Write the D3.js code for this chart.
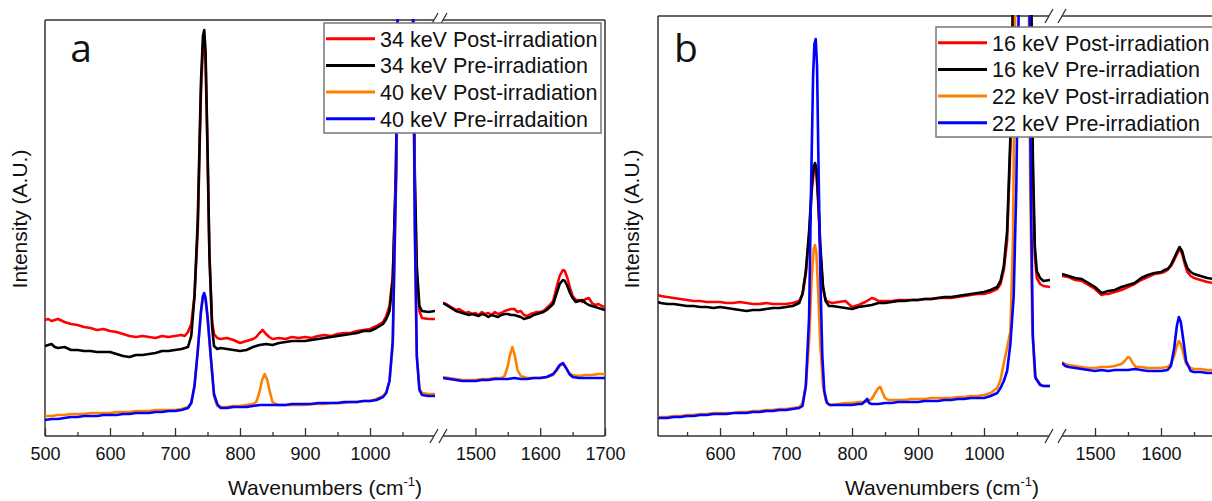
<!DOCTYPE html>
<html>
<head>
<meta charset="utf-8">
<script src="https://cdn.jsdelivr.net/npm/d3@7"></script>
<style>
  body { margin: 0; background: #fff; }
  svg { display: block; }
  text { font-family: "Liberation Sans", Arial, sans-serif; fill: #111; }
</style>
</head>
<body>
<div id="chart"></div>
<script>
// ---- data: [wavenumber (cm-1), intensity (a.u.)] ----

// panel a
const aPost34 = [
  [500,116],[505,117],[510,115],[515,116],[520,117],[530,114],[540,112],[550,111],[560,109],[570,108],
  [580,106],[590,107],[600,105],[610,104],[620,102],[630,100],[640,99],[650,100],[660,99],[670,98],
  [680,100],[690,99],[700,100],[710,101],[715,100],[720,104],[725,112],[730,140],[735,205],[738,290],
  [740,345],[743,388],[745,394],[747,375],[750,285],[753,180],[757,115],[760,102],[765,98],[770,97],
  [780,98],[790,96],[800,93],[805,94],[810,95],[820,97],[825,99],[830,103],[835,106],[840,102],
  [845,99],[850,97],[860,98],[870,97],[880,99],[890,98],[900,99],[910,98],[920,100],[930,101],
  [940,100],[950,102],[960,103],[970,103],[980,105],[990,106],[1000,107],[1010,110],[1020,114],[1025,120],
  [1030,130],[1035,160],[1040,260],[1043,430],[1048,600],[1055,650],[1062,600],[1066,430],[1069,250],[1072,160],
  [1076,125],[1080,118],[1090,117],[1100,117],
  [1450,133],[1455,132],[1460,130],[1465,128],[1470,126],[1475,127],[1480,125],[1485,123],[1490,124],[1495,122],
  [1500,123],[1505,121],[1510,124],[1515,122],[1520,123],[1525,121],[1530,124],[1535,122],[1540,123],[1545,125],
  [1550,126],[1555,127],[1560,127],[1565,124],[1570,125],[1575,121],[1580,120],[1585,122],[1590,123],[1595,124],
  [1600,124],[1605,125],[1610,128],[1615,131],[1620,135],[1625,148],[1630,160],[1635,166],[1638,165],[1642,158],
  [1646,148],[1650,140],[1655,136],[1660,136],[1665,134],[1670,137],[1675,138],[1680,133],[1685,131],[1690,132],
  [1695,130],[1700,129]
];
const aPre34 = [
  [500,90],[505,91],[510,92],[515,89],[520,88],[530,89],[540,86],[550,86],[560,85],[570,85],
  [580,84],[590,84],[600,84],[610,82],[620,80],[630,79],[640,81],[650,81],[660,82],[670,83],
  [680,85],[690,85],[700,86],[710,87],[715,88],[720,89],[725,100],[730,140],[735,215],[738,300],
  [740,355],[743,400],[745,406],[747,385],[750,290],[753,180],[757,110],[760,90],[765,87],[770,88],
  [780,87],[790,86],[800,85],[810,86],[820,89],[830,91],[840,92],[850,91],[860,93],[870,94],
  [880,95],[890,95],[900,95],[910,96],[920,97],[930,98],[940,99],[950,100],[960,101],[970,102],
  [980,103],[990,105],[1000,105],[1010,108],[1020,112],[1025,117],[1030,125],[1035,155],[1040,270],[1043,440],
  [1048,610],[1055,660],[1062,610],[1066,440],[1069,260],[1072,170],[1076,130],[1080,125],[1090,124],[1100,125],
  [1450,133],[1455,131],[1460,129],[1465,127],[1470,125],[1475,124],[1480,123],[1485,122],[1490,121],[1495,122],
  [1500,121],[1505,120],[1510,122],[1515,121],[1520,119],[1525,121],[1530,120],[1535,119],[1540,121],[1545,122],
  [1550,122],[1555,121],[1560,121],[1565,120],[1570,119],[1575,117],[1580,118],[1585,119],[1590,121],[1595,122],
  [1600,123],[1605,124],[1610,126],[1615,129],[1620,132],[1625,142],[1630,152],[1635,156],[1638,155],[1642,150],
  [1646,143],[1650,138],[1655,134],[1660,135],[1665,136],[1670,133],[1675,131],[1680,130],[1685,129],[1690,128],
  [1695,127],[1700,126]
];
const aPost40 = [
  [500,20],[510,20],[520,21],[530,21],[540,22],[550,22],[560,22],[570,23],[580,23],[590,23],
  [600,23],[610,24],[620,24],[630,24],[640,25],[650,25],[660,25],[670,26],[680,26],[690,26],
  [700,26],[710,27],[720,29],[725,33],[730,50],[735,85],[740,124],[743,139],[745,141],[747,136],
  [750,118],[755,78],[760,40],[765,30],[770,29],[780,29],[790,30],[800,30],[810,31],[820,32],
  [825,34],[830,44],[834,56],[838,62],[842,56],[846,44],[850,34],[855,32],[860,31],[870,31],
  [880,31],[890,31],[900,31],[910,32],[920,32],[930,32],[940,33],[950,33],[960,33],[970,34],
  [980,34],[990,35],[1000,35],[1010,37],[1020,40],[1025,44],[1030,55],[1035,90],[1040,250],[1043,450],
  [1048,620],[1055,670],[1062,620],[1066,450],[1069,200],[1072,80],[1076,48],[1080,43],[1090,42],[1100,42],
  [1450,59],[1460,58],[1470,57],[1480,56],[1490,56],[1500,56],[1510,57],[1520,57],[1530,58],[1540,58],
  [1545,60],[1550,70],[1553,80],[1557,89],[1561,80],[1565,66],[1570,60],[1580,58],[1590,58],[1600,58],
  [1610,59],[1620,61],[1625,65],[1630,70],[1635,72],[1640,68],[1645,63],[1650,61],[1660,60],[1670,61],
  [1680,61],[1690,62],[1700,62]
];
const aPre40 = [
  [500,16],[510,17],[520,17],[530,18],[540,19],[550,19],[560,20],[570,20],[580,20],[590,21],
  [600,21],[610,21],[620,22],[630,22],[640,23],[650,23],[660,23],[670,24],[680,24],[690,25],
  [700,25],[710,26],[720,28],[725,33],[730,50],[735,85],[740,125],[743,140],[745,143],[747,138],
  [750,120],[755,80],[760,42],[765,32],[770,28],[780,28],[790,29],[800,29],[810,29],[820,30],
  [830,31],[840,31],[850,31],[860,31],[870,31],[880,32],[890,32],[900,32],[910,32],[920,33],
  [930,33],[940,33],[950,33],[960,34],[970,34],[980,34],[990,35],[1000,35],[1010,36],[1020,39],
  [1025,43],[1030,55],[1035,95],[1040,260],[1043,460],[1048,620],[1055,670],[1062,620],[1066,450],[1069,210],
  [1072,80],[1076,46],[1080,41],[1090,40],[1100,40],
  [1450,58],[1460,57],[1470,56],[1480,55],[1490,55],[1500,55],[1510,56],[1520,56],[1530,57],[1540,57],
  [1550,57],[1560,58],[1570,57],[1580,57],[1590,58],[1600,58],[1610,59],[1620,62],[1625,66],[1630,71],
  [1635,73],[1640,68],[1645,62],[1650,59],[1660,58],[1670,58],[1680,58],[1690,58],[1700,58]
];

// panel b
const bPost16 = [
  [506,141],[510,140],[520,139],[530,138],[540,137],[550,136],[560,135],[570,135],[580,134],[590,134],
  [600,134],[610,133],[620,133],[630,134],[640,133],[650,132],[660,132],[670,133],[680,132],[690,132],
  [700,132],[710,133],[720,135],[725,142],[730,162],[735,200],[739,245],[742,265],[744,268],[746,263],
  [749,230],[752,185],[756,148],[760,136],[765,134],[770,133],[780,134],[790,135],[795,132],[800,129],
  [810,131],[820,134],[830,138],[835,137],[840,135],[850,135],[860,135],[870,136],[880,136],[890,136],
  [900,136],[910,137],[920,137],[930,138],[940,138],[950,138],[960,139],[970,140],[980,141],[990,142],
  [1000,142],[1010,144],[1020,147],[1025,152],[1030,166],[1035,195],[1040,290],[1043,390],[1045,480],[1052,630],
  [1062,620],[1070,480],[1072,400],[1074,260],[1077,180],[1080,158],[1085,152],[1090,150],[1100,149],
  [1450,160],[1460,159],[1470,156],[1480,155],[1490,151],[1500,147],[1505,144],[1510,141],[1515,142],[1520,142],
  [1530,144],[1540,146],[1550,149],[1560,152],[1570,156],[1580,159],[1590,162],[1600,163],[1605,164],[1610,166],
  [1615,170],[1620,176],[1625,183],[1628,187],[1632,182],[1636,172],[1640,164],[1645,160],[1650,158],[1660,156],
  [1670,154],[1680,153],[1690,153],[1700,152]
];
const bPre16 = [
  [506,134],[510,133],[520,132],[530,132],[540,131],[550,130],[560,130],[570,129],[580,129],[590,128],
  [600,129],[610,128],[620,127],[630,126],[640,125],[650,126],[660,126],[670,127],[680,128],[690,128],
  [700,129],[710,130],[720,133],[725,142],[730,165],[735,205],[739,250],[742,270],[744,273],[746,268],
  [749,235],[752,190],[756,150],[760,135],[765,130],[770,130],[780,129],[790,128],[800,127],[810,129],
  [820,130],[830,131],[840,133],[850,133],[860,134],[870,135],[880,135],[890,136],[900,136],[910,137],
  [920,137],[930,138],[940,139],[950,139],[960,140],[970,141],[980,142],[990,143],[1000,144],[1010,146],
  [1020,149],[1025,155],[1030,170],[1035,205],[1040,300],[1043,400],[1045,500],[1052,650],[1062,640],[1070,500],
  [1072,420],[1074,280],[1077,190],[1080,165],[1085,158],[1090,155],[1100,156],
  [1450,162],[1460,160],[1470,158],[1480,157],[1490,153],[1500,149],[1505,146],[1510,143],[1515,144],[1520,145],
  [1530,146],[1540,149],[1550,151],[1560,153],[1570,158],[1580,161],[1590,163],[1600,164],[1605,166],[1610,167],
  [1615,171],[1620,178],[1625,185],[1628,189],[1632,185],[1636,175],[1640,168],[1645,164],[1650,162],[1660,160],
  [1670,158],[1680,157],[1690,157],[1700,156]
];
const bPost22 = [
  [506,19],[510,19],[520,19],[530,20],[540,20],[550,21],[560,21],[570,22],[580,22],[590,23],
  [600,23],[610,23],[620,23],[630,24],[640,24],[650,25],[660,25],[670,26],[680,26],[690,27],
  [700,27],[710,28],[720,29],[725,33],[730,50],[735,95],[739,160],[742,187],[744,191],[746,183],
  [749,140],[752,90],[756,50],[760,36],[765,31],[770,31],[780,32],[790,33],[800,33],[810,34],
  [820,34],[830,37],[835,43],[840,48],[843,49],[846,44],[850,38],[855,36],[860,36],[870,36],
  [880,36],[890,37],[900,37],[910,37],[920,38],[930,38],[940,38],[950,38],[960,39],[970,39],
  [980,40],[990,40],[1000,41],[1010,43],[1020,48],[1025,56],[1030,73],[1035,88],[1040,105],[1044,200],
  [1047,410],[1050,550],[1058,650],[1065,560],[1068,430],[1070,250],[1073,110],[1077,60],[1085,52],[1090,50],
  [1100,50],
  [1450,74],[1455,72],[1460,71],[1470,70],[1480,69],[1490,68],[1500,68],[1510,69],[1520,69],[1530,70],
  [1540,72],[1545,75],[1550,79],[1553,78],[1557,73],[1562,69],[1570,69],[1580,68],[1590,68],[1600,68],
  [1610,69],[1615,72],[1620,80],[1624,90],[1627,95],[1630,92],[1634,82],[1638,72],[1645,68],[1650,67],
  [1660,67],[1670,66],[1680,66],[1690,66],[1700,66]
];
const bPre22 = [
  [506,18],[510,18],[520,18],[530,19],[540,19],[550,20],[560,20],[570,21],[580,21],[590,22],
  [600,22],[610,22],[620,23],[630,23],[640,23],[650,24],[660,24],[670,25],[680,25],[690,26],
  [700,26],[710,27],[720,28],[725,30],[730,50],[735,120],[738,250],[741,360],[743,392],[745,397],
  [747,370],[749,280],[752,160],[755,80],[758,45],[762,33],[767,31],[770,31],[780,31],[790,31],
  [800,31],[810,32],[815,32],[820,35],[823,37],[826,33],[830,32],[840,32],[850,33],[860,33],
  [870,34],[880,34],[890,34],[900,34],[910,35],[920,35],[930,35],[940,36],[950,36],[960,37],
  [970,37],[980,38],[990,38],[1000,38],[1010,40],[1020,43],[1025,48],[1030,55],[1035,65],[1040,92],
  [1045,140],[1049,250],[1052,400],[1054,500],[1060,650],[1066,560],[1069,430],[1071,250],[1074,100],[1078,58],
  [1085,51],[1090,50],[1100,50],
  [1450,73],[1455,70],[1460,69],[1470,68],[1480,67],[1490,66],[1500,65],[1510,66],[1520,65],[1530,66],
  [1540,66],[1550,66],[1560,67],[1570,66],[1580,65],[1590,65],[1600,65],[1610,66],[1615,70],[1620,88],
  [1624,110],[1627,119],[1630,114],[1634,95],[1638,75],[1645,65],[1650,64],[1660,64],[1670,63],[1680,63],
  [1690,63],[1700,63]
];

const aLabels = ["34 keV Post-irradiation", "34 keV Pre-irradiation", "40 keV Post-irradiation", "40 keV Pre-irradaition"];
const bLabels = ["16 keV Post-irradiation", "16 keV Pre-irradiation", "22 keV Post-irradiation", "22 keV Pre-irradiation"];
const colors = ["#ff0000", "#000000", "#ff8000", "#0000ff"];

const majorTicksA = [500, 600, 700, 800, 900, 1000, 1500, 1600, 1700];
const majorTicksB = [600, 700, 800, 900, 1000, 1500, 1600];
const minorTicks = [550, 650, 750, 850, 950, 1050, 1550, 1650];

const W = 1212, H = 501;
const svg = d3.select("#chart").append("svg").attr("width", W).attr("height", H);

const panels = [
  { id: "a", letter: "a", series: [aPost34, aPre34, aPost40, aPre40], labels: aLabels, majors: majorTicksA,
    xMin: 500, left: 45, breakL: 435, breakR: 443, right: 605, top: 20, bottom: 436, yMax: 416,
    legX: 324, legY: 23, legW: 277, legH: 110, letterX: 81, ylabX: 20, xlabX: 325 },
  { id: "b", letter: "b", series: [bPost16, bPre16, bPost22, bPre22], labels: bLabels, majors: majorTicksB,
    xMin: 506, left: 658, breakL: 1050, breakR: 1062, right: 1227, top: 16, bottom: 436, yMax: 420,
    legX: 936, legY: 27, legW: 300, legH: 110, letterX: 686, ylabX: 632, xlabX: 942 }
];

panels.forEach(drawPanel);

function drawPanel(p) {
  const g = svg.append("g");

  // broken x axis: one polylinear scale, segments drawn separately
  const x = d3.scaleLinear()
    .domain([p.xMin, 1100, 1450, 1700])
    .range([p.left, p.breakL, p.breakR, p.right]);
  const y = d3.scaleLinear().domain([0, p.yMax]).range([p.bottom, p.top]);

  // clip each segment
  const segs = [
    { key: "L", x0: p.left, x1: p.breakL, filt: d => d[0] <= 1100 },
    { key: "R", x0: p.breakR, x1: p.right, filt: d => d[0] >= 1450 }
  ];
  const defs = svg.append("defs");
  segs.forEach(s => {
    defs.append("clipPath").attr("id", `clip-${p.id}${s.key}`)
      .append("rect")
      .attr("x", s.x0).attr("y", p.top - 1)
      .attr("width", s.x1 - s.x0).attr("height", p.bottom - p.top + 1);
  });

  // frame
  const frame = g.append("g").attr("stroke", "#333").attr("stroke-width", 1.5).attr("fill", "none");
  const sl = p.breakL - 1, sr = p.breakR;
  frame.append("line").attr("x1", p.left).attr("x2", p.left).attr("y1", p.top).attr("y2", p.bottom);
  frame.append("line").attr("x1", p.right).attr("x2", p.right).attr("y1", p.top).attr("y2", p.bottom);
  [p.top, p.bottom].forEach(yy => {
    frame.append("line").attr("x1", p.left).attr("x2", sl).attr("y1", yy).attr("y2", yy);
    frame.append("line").attr("x1", sr).attr("x2", p.right).attr("y1", yy).attr("y2", yy);
    [sl, sr].forEach(cx => {
      frame.append("line").attr("stroke-width", 1.3)
        .attr("x1", cx - 4).attr("y1", yy + 7).attr("x2", cx + 4).attr("y2", yy - 7);
    });
  });

  // ticks (inward)
  const axMajor = d3.axisBottom(x).tickValues(p.majors).tickSize(-8).tickSizeOuter(0)
    .tickPadding(11).tickFormat(d3.format("d"));
  const axMinor = d3.axisBottom(x).tickValues(minorTicks).tickSize(-4).tickSizeOuter(0).tickFormat("");
  [axMajor, axMinor].forEach(ax => {
    const a = g.append("g").attr("transform", `translate(0,${p.bottom})`).call(ax);
    a.select(".domain").remove();
    a.selectAll(".tick line").attr("stroke", "#333").attr("stroke-width", 1.3);
    a.selectAll(".tick text").attr("font-size", 18).attr("fill", "#111")
      .attr("font-family", "Liberation Sans, Arial, sans-serif");
  });

  // spectra
  const line = d3.line().x(d => x(d[0])).y(d => y(d[1]));
  p.series.forEach((s, i) => {
    segs.forEach(sg => {
      g.append("path")
        .datum(s.filter(sg.filt))
        .attr("clip-path", `url(#clip-${p.id}${sg.key})`)
        .attr("fill", "none")
        .attr("stroke", colors[i])
        .attr("stroke-width", 2.6)
        .attr("stroke-linejoin", "round")
        .attr("d", line);
    });
  });

  // legend
  const leg = g.append("g");
  leg.append("rect")
    .attr("x", p.legX).attr("y", p.legY).attr("width", p.legW).attr("height", p.legH)
    .attr("fill", "#fff").attr("stroke", "#777").attr("stroke-width", 1.5);
  p.labels.forEach((lab, i) => {
    const by = p.legY + 23.7 + i * 26.7;
    leg.append("line")
      .attr("x1", p.legX + 2).attr("x2", p.legX + 51)
      .attr("y1", by - 8).attr("y2", by - 8)
      .attr("stroke", colors[i]).attr("stroke-width", 3);
    leg.append("text").attr("x", p.legX + 56).attr("y", by)
      .attr("font-size", 21.5).text(lab);
  });

  // panel letter
  g.append("text").attr("x", p.letterX).attr("y", 62)
    .attr("text-anchor", "middle")
    .style("font-family", "'Open Sans', sans-serif")
    .attr("font-size", 39).text(p.letter);

  // axis titles
  g.append("text")
    .attr("transform", `translate(${p.ylabX + 7},219) rotate(-90)`)
    .attr("text-anchor", "middle").attr("font-size", 21)
    .text("Intensity (A.U.)");

  const xl = g.append("text").attr("x", p.xlabX).attr("y", 495)
    .attr("text-anchor", "middle").attr("font-size", 21);
  xl.append("tspan").text("Wavenumbers (cm");
  xl.append("tspan").attr("dy", -9).attr("font-size", 13).text("-1");
  xl.append("tspan").attr("dy", 9).text(")");
}
</script>
</body>
</html>
